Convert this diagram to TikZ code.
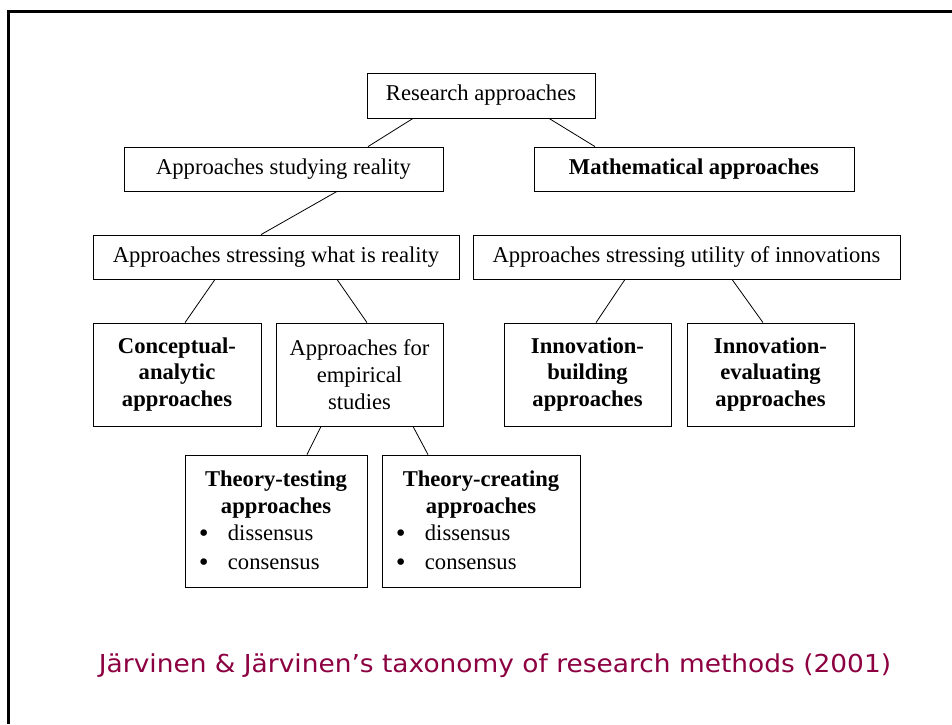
\documentclass[tikz,border=0pt]{standalone}
\usepackage{fontspec}
\setmainfont{Liberation Serif}
\newfontfamily\captionfont[FakeStretch=1.07]{DejaVu Sans}
\newfontfamily\bulletfont{DejaVu Sans}
\definecolor{captionred}{RGB}{140,0,65}
\newcommand{\bulletline}[2]{\makebox[#1][l]{\hspace{-2pt}\raisebox{-1pt}{\bulletfont\textbullet}\hspace{17.6pt}#2}}
\tikzset{
  box/.style={draw, line width=0.8pt, inner sep=0pt, align=center},
  link/.style={line width=0.8pt}
}
\begin{document}
\begin{tikzpicture}[x=1pt, y=-1pt, every node/.style={font=\fontsize{22.6}{26.7}\selectfont}]
\useasboundingbox (0,0) rectangle (952,724);
\draw [line width=2.5pt] (8.5,724) -- (8.5,11.5) -- (952,11.5);
\node [box, minimum width=228, minimum height=45] (res) at (481,95.5) {Research approaches};
\node [box, minimum width=319, minimum height=44] (stud) at (283.5,169) {Approaches studying reality};
\node [box, minimum width=320, minimum height=44] (math) at (694,169) {\textbf{Mathematical approaches}};
\node [box, minimum width=366, minimum height=44] (what) at (276,257) {Approaches stressing what is reality};
\node [box, minimum width=427, minimum height=44] (util) at (686.5,257) {Approaches stressing utility of innovations};
\node [box, minimum width=168, minimum height=103] (concept) at (177,374.5) {\textbf{Conceptual-}\\\textbf{analytic}\\\textbf{approaches}};
\node [box, minimum width=167, minimum height=103] (empir) at (359.5,374.5) {Approaches for\\empirical\\studies};
\node [box, minimum width=167, minimum height=103] (build) at (587.5,374.5) {\textbf{Innovation-}\\\textbf{building}\\\textbf{approaches}};
\node [box, minimum width=167, minimum height=103] (eval) at (770.5,374.5) {\textbf{Innovation-}\\\textbf{evaluating}\\\textbf{approaches}};
\node [box, minimum width=182, minimum height=132] (ttest) at (276,521) {\textbf{Theory-testing}\\\textbf{approaches}\\\bulletline{154pt}{dissensus}\\[3pt]\bulletline{154pt}{consensus}};
\node [box, minimum width=198, minimum height=132] (tcreate) at (481,521) {\textbf{Theory-creating}\\\textbf{approaches}\\\bulletline{170pt}{dissensus}\\[3pt]\bulletline{170pt}{consensus}};
\node [anchor=base, text=captionred, font=\captionfont\fontsize{24.7}{28}\selectfont] (caption) at (495,672) {Järvinen \& Järvinen’s taxonomy of research methods (2001)};
\draw [link] ([xshift=-68pt]res.south) -- ([xshift=84.5pt]stud.north);
\draw [link] ([xshift=68pt]res.south) -- ([xshift=-99pt]math.north);
\draw [link] ([xshift=53.5pt]stud.south) -- ([xshift=-15pt]what.north);
\draw [link] ([xshift=-61pt]what.south) -- ([xshift=8pt]concept.north);
\draw [link] ([xshift=61pt]what.south) -- ([xshift=7.5pt]empir.north);
\draw [link] ([xshift=-61.5pt]util.south) -- ([xshift=8.5pt]build.north);
\draw [link] ([xshift=45.5pt]util.south) -- ([xshift=-7.5pt]eval.north);
\draw [link] ([xshift=-38.5pt]empir.south) -- ([xshift=31pt]ttest.north);
\draw [link] ([xshift=53.5pt]empir.south) -- ([xshift=-53pt]tcreate.north);
\end{tikzpicture}
\end{document}
